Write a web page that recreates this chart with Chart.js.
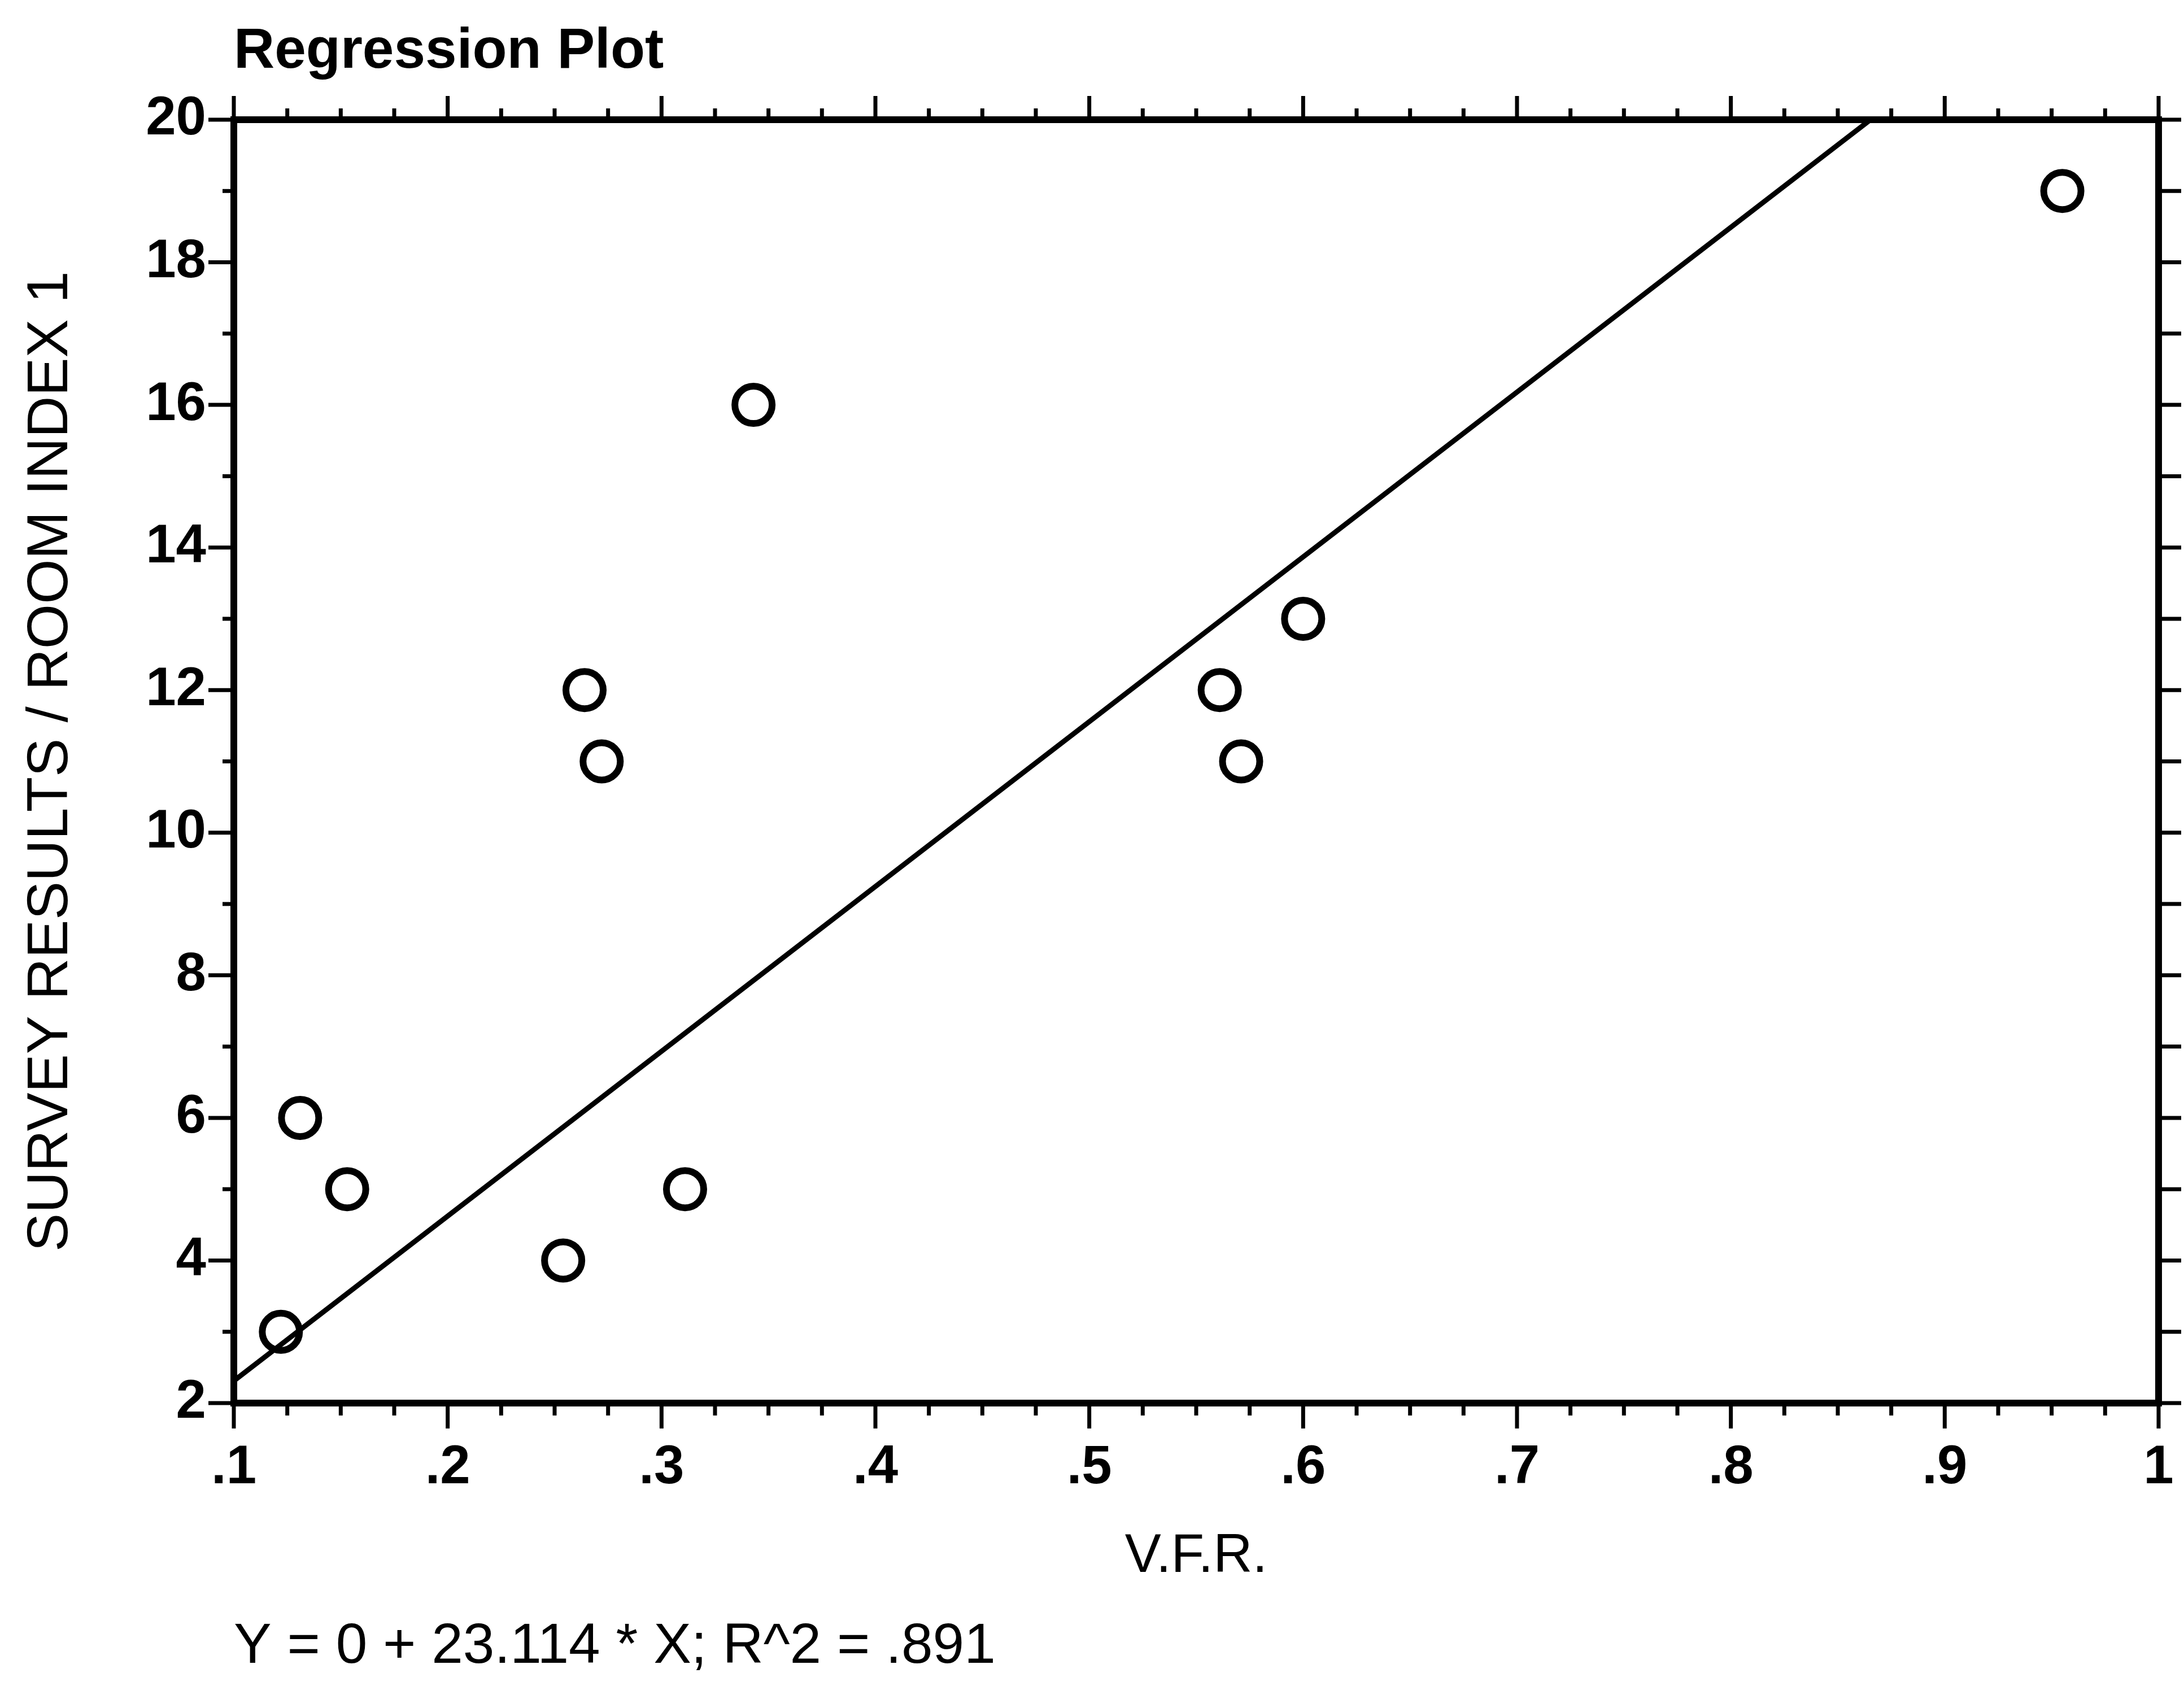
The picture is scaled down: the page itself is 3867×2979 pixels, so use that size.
<!DOCTYPE html>
<html>
<head>
<meta charset="utf-8">
<title>Regression Plot</title>
<script src="https://cdn.jsdelivr.net/npm/chart.js@4.4.1/dist/chart.umd.min.js"></script>
<style>
  html, body { margin: 0; padding: 0; background: #fff; }
  #wrap { width: 3867px; height: 2979px; }
</style>
</head>
<body>
<div id="wrap"><canvas id="regressionChart" width="3867" height="2979"></canvas></div>
<script>
// Observed points: V.F.R. against survey results / room index 1
const vfr = [0.122, 0.131, 0.153, 0.254, 0.264, 0.272, 0.311, 0.343, 0.561, 0.571, 0.600, 0.955];
const surveyIndex = [3, 6, 5, 4, 12, 11, 5, 16, 12, 11, 13, 19];

// Fitted line Y = 0 + 23.114 * X, from the left edge up to where it leaves the plot top
const fitX = [0.1, 0.8653];
const fitY = [2.311, 20];

// Axis ticks
const xTickValues = [0.1, 0.2, 0.3, 0.4, 0.5, 0.6, 0.7, 0.8, 0.9, 1.0];
const xTickLabels = ['.1', '.2', '.3', '.4', '.5', '.6', '.7', '.8', '.9', '1'];
const yTickValues = [2, 4, 6, 8, 10, 12, 14, 16, 18, 20];
const yTickLabels = ['2', '4', '6', '8', '10', '12', '14', '16', '18', '20'];

const chartTitle = 'Regression Plot';
const xAxisTitle = 'V.F.R.';
const yAxisTitle = 'SURVEY RESULTS / ROOM INDEX 1';
const fitEquation = 'Y = 0 + 23.114 * X; R^2 = .891';

const FONT = "'Liberation Sans', Arial, Helvetica, sans-serif";

// Box frame plus outward tick marks on all four sides (minor ticks between majors)
const frameTicks = {
  id: 'frameTicks',
  afterDatasetsDraw(chart) {
    const { ctx, chartArea: a, scales: { x, y } } = chart;
    const tick = (x1, y1, x2, y2) => {
      ctx.beginPath();
      ctx.moveTo(x1, y1);
      ctx.lineTo(x2, y2);
      ctx.stroke();
    };
    ctx.save();
    ctx.strokeStyle = '#000';
    ctx.lineWidth = 12;
    ctx.strokeRect(a.left, a.top, a.right - a.left, a.bottom - a.top);

    ctx.lineWidth = 7;
    xTickValues.forEach((v, i) => {
      const px = x.getPixelForValue(v);
      tick(px, a.bottom, px, a.bottom + 45);
      tick(px, a.top, px, a.top - 42);
      if (i < xTickValues.length - 1) {
        const step = (xTickValues[i + 1] - v) / 4;
        for (let k = 1; k < 4; k++) {
          const pm = x.getPixelForValue(v + k * step);
          tick(pm, a.bottom, pm, a.bottom + 22);
          tick(pm, a.top, pm, a.top - 20);
        }
      }
    });
    yTickValues.forEach((v, i) => {
      const py = y.getPixelForValue(v);
      tick(a.left, py, a.left - 45, py);
      tick(a.right, py, a.right + 40, py);
      if (i < yTickValues.length - 1) {
        const pm = y.getPixelForValue((v + yTickValues[i + 1]) / 2);
        tick(a.left, pm, a.left - 20, pm);
        tick(a.right, pm, a.right + 40, pm);
      }
    });
    ctx.restore();
  }
};

new Chart(document.getElementById('regressionChart'), {
  type: 'scatter',
  data: {
    datasets: [{
      label: 'Observed',
      data: vfr.map((v, i) => ({ x: v, y: surveyIndex[i] })),
      pointStyle: 'circle',
      pointRadius: 33,
      pointBorderWidth: 12,
      pointBorderColor: '#000',
      pointBackgroundColor: 'rgba(0, 0, 0, 0)',
      showLine: false
    }, {
      label: 'Fit',
      data: fitX.map((v, i) => ({ x: v, y: fitY[i] })),
      showLine: true,
      borderColor: '#000',
      borderWidth: 9,
      pointRadius: 0,
      fill: false
    }]
  },
  options: {
    responsive: false,
    animation: false,
    layout: { padding: { left: 0, right: 17, top: 0, bottom: 0 } },
    plugins: {
      legend: { display: false },
      tooltip: { enabled: false },
      title: {
        display: true,
        text: chartTitle,
        position: 'top',
        align: 'start',
        fullSize: false,
        color: '#000',
        font: { family: FONT, size: 100, weight: 'bold' },
        padding: { top: 32, bottom: 60 }
      },
      subtitle: {
        display: true,
        text: fitEquation,
        position: 'bottom',
        align: 'start',
        fullSize: false,
        color: '#000',
        font: { family: FONT, size: 100 },
        padding: { top: 0, bottom: 2 }
      }
    },
    scales: {
      x: {
        type: 'linear',
        position: 'bottom',
        min: 0.1,
        max: 1,
        grid: { display: false, drawTicks: false },
        border: { display: false },
        afterBuildTicks: (s) => { s.ticks = xTickValues.map(v => ({ value: v })); },
        afterFit: (s) => { s.height = 372; s.paddingLeft = 0; s.paddingRight = 0; },
        ticks: {
          callback: (v, i) => xTickLabels[i],
          color: '#000',
          font: { family: FONT, size: 96, weight: 'bold' },
          padding: 58,
          maxRotation: 0,
          autoSkip: false
        },
        title: {
          display: true,
          text: xAxisTitle,
          color: '#000',
          font: { family: FONT, size: 96 },
          padding: { top: 0, bottom: 42 }
        }
      },
      y: {
        type: 'linear',
        position: 'left',
        min: 2,
        max: 20,
        grid: { display: false, drawTicks: false },
        border: { display: false },
        afterBuildTicks: (s) => { s.ticks = yTickValues.map(v => ({ value: v })); },
        afterFit: (s) => { s.width = 414; s.paddingTop = 0; s.paddingBottom = 0; },
        ticks: {
          callback: (v, i) => yTickLabels[i],
          color: '#000',
          font: { family: FONT, size: 96, weight: 'bold' },
          padding: 49,
          autoSkip: false
        },
        title: {
          display: true,
          text: yAxisTitle,
          color: '#000',
          font: { family: FONT, size: 102 },
          padding: { top: 30, bottom: 0 }
        }
      }
    }
  },
  plugins: [frameTicks]
});
</script>
</body>
</html>
